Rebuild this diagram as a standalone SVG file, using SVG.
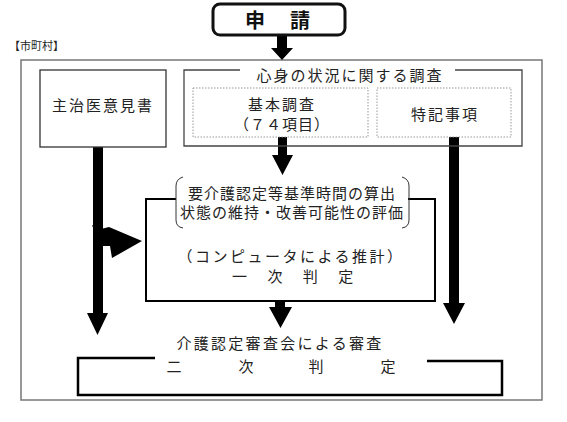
<svg xmlns="http://www.w3.org/2000/svg" width="567" height="422" viewBox="0 0 567 422">
<style>
text{font-family:"Noto Sans CJK JP","Noto Sans CJK SC",sans-serif;fill:#222;dominant-baseline:central;text-anchor:middle;font-size:15px}
.sm{font-size:11px;text-anchor:start}
.bold{font-weight:bold;font-size:20px;fill:#111}
.box{fill:#fff;stroke:#333;stroke-width:1.3}
.dot{fill:none;stroke:#999;stroke-width:1;stroke-dasharray:1.5 1.5}
.arrow{fill:#000;stroke:none}
.line{fill:none;stroke:#000;stroke-width:2.5}
</style>
<rect width="567" height="422" fill="#fff"/>
<g id="municipality-label"><text class="sm" x="9" y="45">【市町村】</text></g>
<g id="outer"><rect x="21" y="60" width="521" height="340" fill="none" stroke="#777" stroke-width="1.5"/></g>
<g id="connectors">
  <polygon class="arrow" points="277,35 287,35 287,48 293,48 282,60 271,48 277,48"/>
  <polygon class="arrow" points="93,147 103,147 103,313 108,313 97.5,335 87,313 93,313"/>
  <polygon class="arrow" points="449,137 459,137 459,303 465,303 454,324 443,303 449,303"/>
  <polygon class="arrow" points="278,137 287,137 287,155 293,155 282.5,175 272,155 278,155"/>
  <polygon class="arrow" points="275,301 285,301 285,307 292,307 280.5,328 269,307 275,307"/>
  <polygon class="arrow" points="92,225 101,229 109,227 142,241 112,258 110,246 100,246"/>
</g>
<g id="apply"><rect x="213" y="4" width="132" height="31" rx="7" fill="#fff" stroke="#111" stroke-width="3"/>
  <text class="bold" x="255" y="19">申</text><text class="bold" x="300" y="19">請</text></g>
<g id="doctor"><rect class="box" x="40" y="70" width="126" height="77"/><text x="103" y="104" letter-spacing="2">主治医意見書</text></g>
<g id="survey">
  <path d="M240,70 H184 V146 H522 V70 H455" fill="none" stroke="#444" stroke-width="1.3"/>
  <text x="350" y="74" letter-spacing="2">心身の状況に関する調査</text>
</g>
<g id="basic"><rect class="dot" x="193" y="88" width="175" height="49"/>
  <text x="282" y="103" letter-spacing="2">基本調査</text><text x="282" y="123" letter-spacing="1">（７４項目）</text></g>
<g id="special"><rect class="dot" x="377" y="88" width="134" height="49"/><text x="445" y="113" letter-spacing="2">特記事項</text></g>
<g id="primary">
  <path d="M176,199 H146 V301 H435 V199 H408" fill="none" stroke="#000" stroke-width="2"/>
  <path d="M183,177 Q176,179 176,186 V220 Q176,227 183,228" fill="none" stroke="#333" stroke-width="1"/>
  <path d="M402,177 Q409,179 409,186 V220 Q409,227 402,228" fill="none" stroke="#333" stroke-width="1"/>
  <text x="292" y="192" letter-spacing="1">要介護認定等基準時間の算出</text>
  <text x="292" y="211" letter-spacing="1">状態の維持・改善可能性の評価</text>
  <text x="291" y="255" letter-spacing="2.5">（コンピュータによる推計）</text>
  <text x="294" y="275" letter-spacing="2.7">一　次　判　定</text>
</g>
<g id="secondary">
  <path class="line" d="M155,358 H78 V395 H502 V361 H427"/>
  <text x="280" y="342" letter-spacing="2.3">介護認定審査会による審査</text>
  <text x="174" y="365">二</text><text x="246" y="365">次</text><text x="316" y="365">判</text><text x="388" y="365">定</text>
</g>
</svg>
